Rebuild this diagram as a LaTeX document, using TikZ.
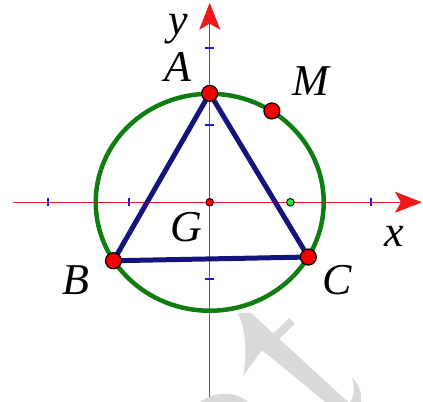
\documentclass[tikz,border=0pt]{standalone}
\usepackage{fontspec}
\setmainfont{Liberation Serif}
\usetikzlibrary{arrows.meta}
\definecolor{axisred}{RGB}{240,25,25}
\definecolor{tickblue}{RGB}{25,25,230}
\definecolor{trinavy}{RGB}{20,20,125}
\definecolor{circgreen}{RGB}{15,125,15}
\definecolor{ptred}{RGB}{240,0,0}
\definecolor{ptgreen}{RGB}{40,230,40}
\definecolor{wmgray}{RGB}{217,217,217}

\begin{document}
\begin{tikzpicture}[x=80.7pt,y=77pt,
  every node/.style={font=\fontsize{44}{48}\selectfont\itshape,anchor=base,inner sep=0pt},
  axis/.style={axisred,line width=1.3pt,-{Stealth[length=27pt,width=21pt,inset=6pt]}},
  tick/.style={tickblue,line width=2pt},
  tri/.style={trinavy,line width=5pt,line join=round},
  pt/.style={fill=ptred,draw=black,line width=1.2pt}]
\useasboundingbox (-2.599,-2.594) rectangle (2.643,2.627);
\begin{scope}[x=1pt,y=-1pt,xshift=-209.7pt,yshift=202.3pt]
\fill[wmgray] (238,313) -- (251,313) -- (348,402) -- (325,402) -- (262,350) -- (243,376) .. controls (248,350) and (245,330) .. (238,313);
\draw[wmgray,line width=8pt] (262,350) -- (292,321);
\fill[wmgray] (352,378) .. controls (360,385) and (362,395) .. (361,402) -- (350,402) .. controls (355,395) and (355,388) .. (352,378);
\fill[wmgray] (200,402) .. controls (215,391) and (235,391) .. (248,402) -- cycle;
\end{scope}
\coordinate (G) at (0,0);
\coordinate (xl) at (-2.436,0);
\coordinate (xr) at (2.63,0);
\coordinate (yb) at (0,-2.529);
\coordinate (yt) at (0,2.592);
\draw[axis] (xl) -- (xr);
\draw[axis] (yb) -- (yt);
\foreach \u in {-2,-1,2}
  \draw[tick] (\u,0) ++(0,-4pt) -- ++(0,8pt);
\foreach \v in {-1,1,2}
  \draw[tick] (0,\v) ++(-4.5pt,0) -- ++(9pt,0);
\draw[circgreen,line width=4.5pt] (G) ellipse [x radius=114pt,y radius=108.5pt];
\coordinate (A) at (90:1.4142);
\coordinate (B) at (212.5:1.4142);
\coordinate (C) at (329.8:1.4142);
\coordinate (M) at (57:1.4142);
\coordinate (P) at (1,0);
\draw[tri] (A) -- (B) -- (C) -- cycle;
\draw[pt] (A) circle [radius=8pt];
\draw[pt] (B) circle [radius=8pt];
\draw[pt] (C) circle [radius=8pt];
\draw[pt] (M) circle [radius=8pt];
\draw[pt,line width=0.9pt] (G) circle [radius=3.8pt];
\draw[fill=ptgreen,draw=black,line width=0.9pt] (P) circle [radius=3.8pt];
\node (ylab) at (-0.393,2.173) {y};
\node (Alab) at (-0.393,1.562) {A};
\node (Mlab) at (1.255,1.392) {M};
\node (Glab) at (-0.294,-0.516) {G};
\node (xlab) at (2.284,-0.581) {x};
\node (Blab) at (-1.657,-1.204) {B};
\node (Clab) at (1.577,-1.204) {C};
\end{tikzpicture}
\end{document}
